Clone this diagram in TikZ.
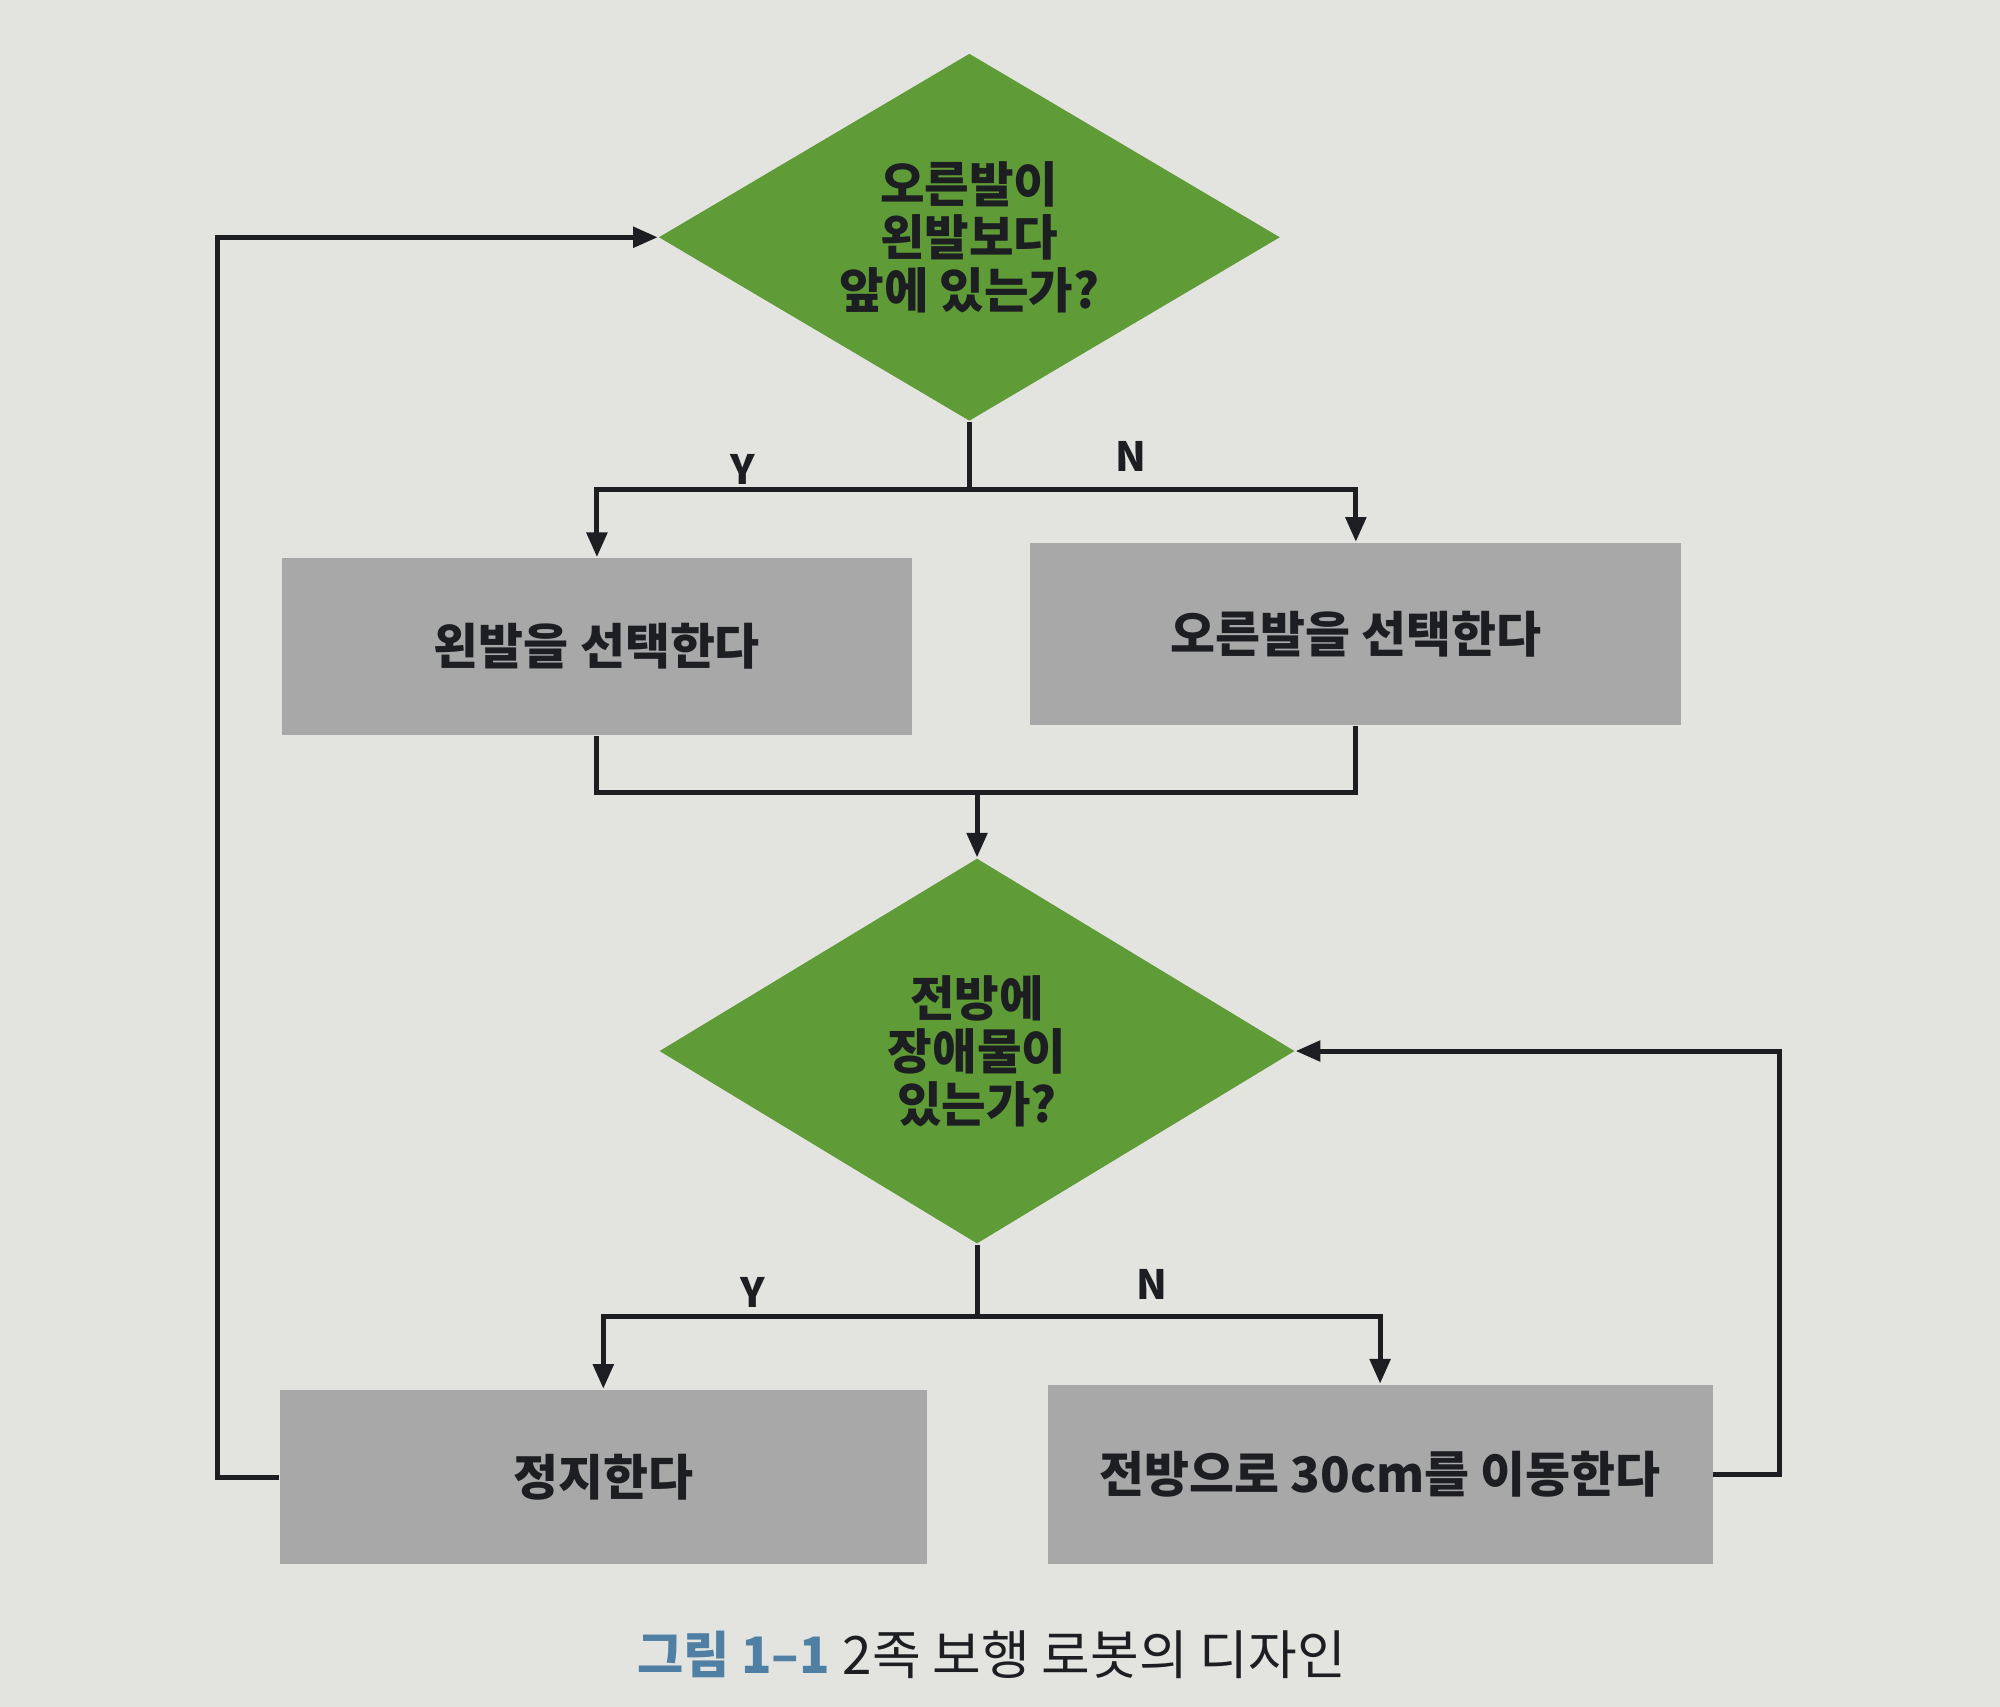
\documentclass[tikz,border=0pt]{standalone}
\usepackage{fontspec}
\newfontfamily\kr{Noto Sans CJK KR}
\usetikzlibrary{shapes.geometric,arrows.meta}
\definecolor{page}{HTML}{E3E3E0}
\definecolor{dgreen}{HTML}{5F9B36}
\definecolor{boxgray}{HTML}{A8A8A8}
\definecolor{ink}{HTML}{1C1E22}
\definecolor{capblue}{HTML}{4F7FA3}
\tikzset{
  dia/.style={diamond, aspect=1.7, inner sep=0pt, fill=dgreen, text=ink, align=center,
    font=\kr\bfseries\fontsize{10.8}{11.8}\selectfont},
  proc/.style={rectangle, inner sep=0pt, fill=boxgray, text=ink, align=center,
    font=\kr\bfseries\fontsize{10.9}{12}\selectfont},
  conn/.style={draw=ink, line width=1.1pt},
  arr/.style={conn, -{Triangle[length=5.5pt,width=4.5pt]}},
  yn/.style={text=ink, font=\kr\bfseries\fontsize{9}{10}\selectfont},
}
\begin{document}
\begin{tikzpicture}[x=0.01cm,y=-0.01cm]
\fill[page] (0,0) rectangle (1568,1338);
\useasboundingbox (0,0) rectangle (1568,1338);

% nodes
\node[dia, minimum width=4.87cm, minimum height=2.88cm] (d1) at (760,186) {오른발이\\왼발보다\\앞에 있는가?};
\node[proc, minimum width=4.93cm, minimum height=1.39cm] (b1) at (468,507) {왼발을 선택한다};
\node[proc, minimum width=5.10cm, minimum height=1.43cm] (b2) at (1063,497) {오른발을 선택한다};
\node[dia, minimum width=4.98cm, minimum height=3.02cm] (d2) at (766,824) {전방에\\장애물이\\있는가?};
\node[proc, minimum width=5.07cm, minimum height=1.37cm] (b3) at (473,1158) {정지한다};
\node[proc, minimum width=5.21cm, minimum height=1.41cm] (b4) at (1082,1156) {전방으로 30cm를 이동한다};

% labels
\node[yn] (y1) at (582,368) {Y};
\node[yn] (n1) at (887,358) {N};
\node[yn] (y2) at (590,1013) {Y};
\node[yn] (n2) at (903,1007) {N};

% caption
\node[font=\kr\bfseries\fontsize{11.2}{12}\selectfont, text=capblue] (cap1) at (575,1297) {그림 1–1};
\node[font=\kr\fontsize{11.8}{13}\selectfont, text=ink, anchor=west, inner sep=0pt] (cap2) at (660,1297) {2족 보행 로봇의 디자인};

% coordinates
\coordinate (s1) at (760,384);
\coordinate (m1) at (766,621);
\coordinate (s2) at (766,1032);

% connectors
\draw[conn] (d1.south) -- (s1);
\draw[arr] (s1) -| (b1.north);
\draw[arr] (s1) -| (b2.north);
\draw[conn] (b1.south) |- (m1);
\draw[conn] (b2.south) |- (m1);
\draw[arr] (m1) -- (d2.north);
\draw[conn] (d2.south) -- (s2);
\draw[arr] (s2) -| (b3.north);
\draw[arr] (s2) -| (b4.north);
\draw[arr] (b3.west) -- ++(-48,0) |- (d1.west);
\draw[arr] (b4.east) -- ++(52,0) |- (d2.east);
\end{tikzpicture}
\end{document}
